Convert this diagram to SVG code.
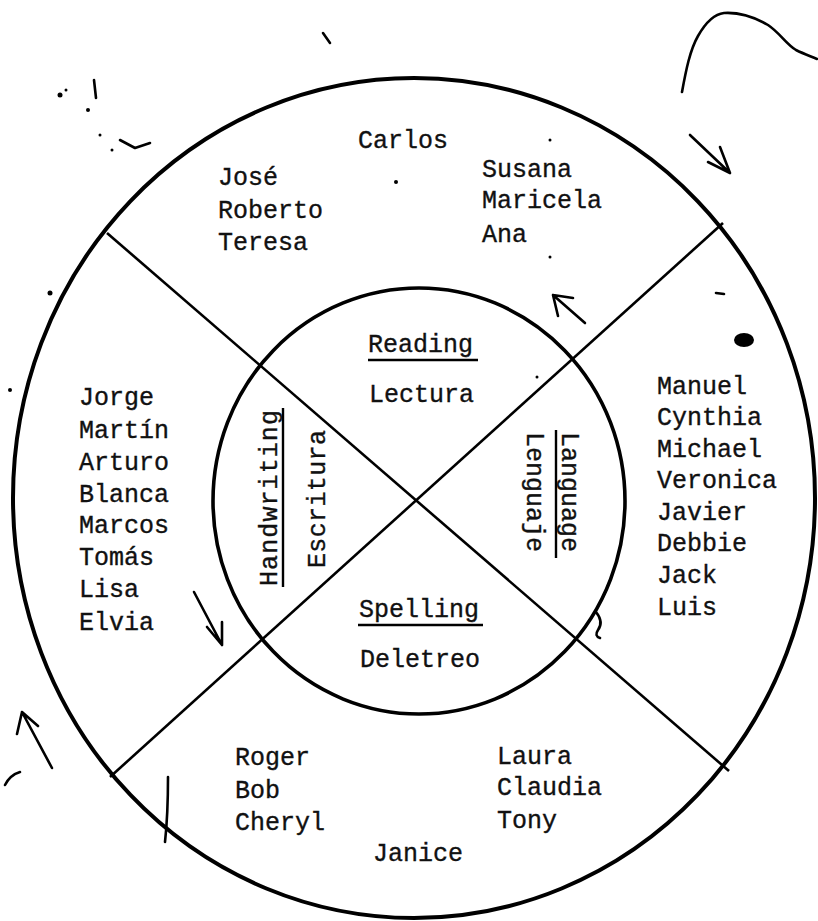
<svg xmlns="http://www.w3.org/2000/svg" width="818" height="921" viewBox="0 0 818 921">
<defs>
<style>
.t{font-family:"Liberation Mono","DejaVu Sans Mono",monospace;font-size:25px;fill:#111;stroke:#111;stroke-width:0.35}
.ring{fill:none;stroke:#000}
.div{stroke:#000;stroke-width:2.6;fill:none}
.ul{stroke:#000;stroke-width:2.4}
.hand{fill:none;stroke:#000;stroke-width:2.6;stroke-linecap:round;stroke-linejoin:round}
.speck{fill:#000}
</style>
</defs>
<rect width="818" height="921" fill="#fff"/>
<g id="outer-ring"><ellipse class="ring" cx="414" cy="498" rx="401" ry="420" stroke-width="4"/></g>
<g id="connectors">
<line class="div" x1="107" y1="233" x2="729" y2="771"/>
<line class="div" x1="723" y1="223" x2="110" y2="777"/>
</g>
<g id="inner-ring"><ellipse class="ring" cx="419" cy="501" rx="206" ry="213" stroke-width="3.6"/></g>
<g id="reading">
<text class="t" x="368" y="352">Reading</text>
<line class="ul" x1="368" y1="360" x2="478" y2="360"/>
<text class="t" x="369" y="402">Lectura</text>
</g>
<g id="handwriting">
<text class="t" transform="translate(277,586) rotate(-90)" textLength="176" lengthAdjust="spacing">Handwriting</text>
<line class="ul" x1="283" y1="408" x2="283" y2="587"/>
<text class="t" transform="translate(325,568) rotate(-90)" textLength="138" lengthAdjust="spacing">Escritura</text>
</g>
<g id="language">
<text class="t" transform="translate(562,432) rotate(90)">Language</text>
<line class="ul" x1="556" y1="430" x2="556" y2="558"/>
<text class="t" transform="translate(527,432) rotate(90)">Lenguaje</text>
</g>
<g id="spelling">
<text class="t" x="359" y="617">Spelling</text>
<line class="ul" x1="358" y1="625" x2="483" y2="625"/>
<text class="t" x="360" y="667">Deletreo</text>
</g>
<g id="top-group">
<text class="t" x="358" y="148">Carlos</text>
<text class="t" x="218" y="185">José</text>
<text class="t" x="218" y="218">Roberto</text>
<text class="t" x="218" y="250">Teresa</text>
<text class="t" x="482" y="177">Susana</text>
<text class="t" x="482" y="208">Maricela</text>
<text class="t" x="482" y="242">Ana</text>
</g>
<g id="left-group">
<text class="t" x="79" y="405">Jorge</text>
<text class="t" x="79" y="438">Martín</text>
<text class="t" x="79" y="470">Arturo</text>
<text class="t" x="79" y="502">Blanca</text>
<text class="t" x="79" y="533">Marcos</text>
<text class="t" x="79" y="565">Tomás</text>
<text class="t" x="79" y="597">Lisa</text>
<text class="t" x="79" y="630">Elvia</text>
</g>
<g id="right-group">
<text class="t" x="657" y="394">Manuel</text>
<text class="t" x="657" y="425">Cynthia</text>
<text class="t" x="657" y="457">Michael</text>
<text class="t" x="657" y="488">Veronica</text>
<text class="t" x="657" y="520">Javier</text>
<text class="t" x="657" y="551">Debbie</text>
<text class="t" x="657" y="583">Jack</text>
<text class="t" x="657" y="615">Luis</text>
</g>
<g id="bottom-group">
<text class="t" x="235" y="765">Roger</text>
<text class="t" x="235" y="798">Bob</text>
<text class="t" x="235" y="830">Cheryl</text>
<text class="t" x="497" y="764">Laura</text>
<text class="t" x="497" y="795">Claudia</text>
<text class="t" x="497" y="828">Tony</text>
<text class="t" x="373" y="861">Janice</text>
</g>
<g id="hand-marks">
<path class="hand" d="M682,92 C686,70 690,50 698,36 C706,22 714,14 724,13 C740,12 756,18 768,25 C780,33 786,44 796,50 C804,54 810,56 817,59"/>
<path class="hand" d="M690,135 L730,173 M720,147 L730,173 L708,162"/>
<path class="hand" d="M585,323 L553,295 M573,298 L553,295 L558,316"/>
<path class="hand" d="M194,592 L222,645 M207,627 L222,645 L222,622"/>
<path class="hand" d="M52,768 L22,712 M17,734 L22,712 L38,726"/>
<path class="hand" d="M5,785 Q10,775 20,772" stroke-width="2"/>
<path class="hand" d="M168,777 Q168,815 165,842" stroke-width="2"/>
<path class="hand" d="M596,612 Q604,622 598,630 Q594,636 600,638" stroke-width="1.5"/>
</g>
<g id="specks">
<path class="hand" d="M94,80 L96,98" stroke-width="2.4"/>
<circle class="speck" cx="60" cy="95" r="2.5"/>
<circle class="speck" cx="66" cy="90" r="1.5"/>
<circle class="speck" cx="88" cy="110" r="2"/>
<circle class="speck" cx="100" cy="135" r="1.5"/>
<circle class="speck" cx="112" cy="150" r="1.5"/>
<path class="hand" d="M120,140 L135,148 L150,143" stroke-width="1.3"/>
<path class="hand" d="M323,33 L330,43" stroke-width="2"/>
<ellipse class="speck" cx="744" cy="340" rx="10" ry="7"/>
<circle class="speck" cx="50" cy="293" r="2.5"/>
<circle class="speck" cx="10" cy="390" r="2"/>
<circle class="speck" cx="396" cy="182" r="2"/>
<circle class="speck" cx="550" cy="140" r="1.5"/>
<circle class="speck" cx="550" cy="257" r="1.5"/>
<circle class="speck" cx="537" cy="377" r="1.5"/>
<path class="hand" d="M716,293 L724,294" stroke-width="2"/>
</g>
</svg>
